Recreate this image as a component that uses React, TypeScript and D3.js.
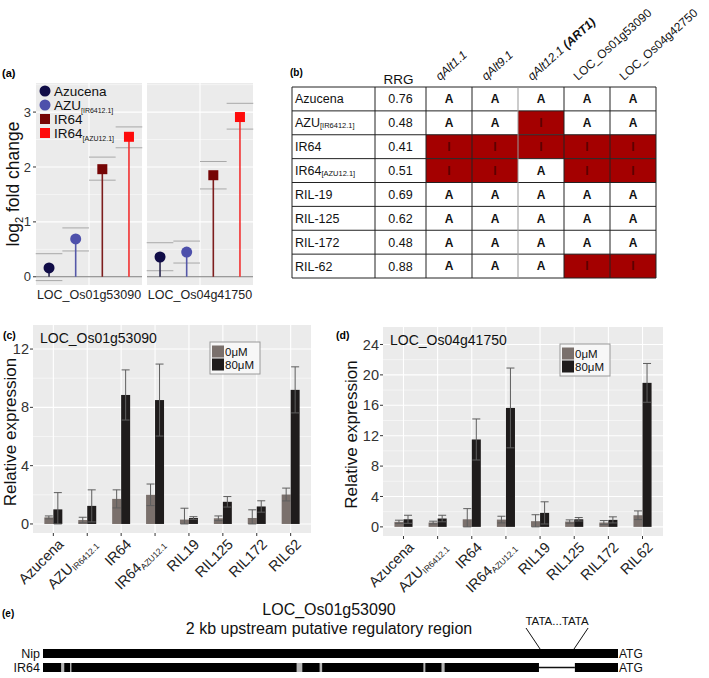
import React from 'react';
import * as d3 from 'd3';

const FONT = "'Liberation Sans', Arial, Helvetica, sans-serif";
const PANEL_BG = '#ebebeb';

// ---------- Panel (a) data ----------
const aGenes = ['LOC_Os01g53090', 'LOC_Os04g41750'];
const aGenotypes = ['Azucena', 'AZU[IR6412.1]', 'IR64', 'IR64[AZU12.1]'];
const aLegendMain = ['Azucena', 'AZU', 'IR64', 'IR64'];
const aLegendSub = ['', '[IR6412.1]', '', '[AZU12.1]'];
const aShapes = ['circle', 'circle', 'square', 'square'];
const aPointColors = ['#100c47', '#4d50ab', '#760505', '#fe0b0b'];
const aStemColors = ['#2c2a4f', '#5558a8', '#7d1d1d', '#f23030'];
const aFoldOs01 = [0.16, 0.69, 1.96, 2.55];
const aLowOs01 = [-0.07, 0.47, 1.76, 2.35];
const aHighOs01 = [0.42, 0.89, 2.18, 2.73];
const aFoldOs04 = [0.36, 0.45, 1.85, 2.91];
const aLowOs04 = [0.11, 0.25, 1.6, 2.69];
const aHighOs04 = [0.62, 0.65, 2.1, 3.16];
const aTicks = [0, 1, 2, 3];

// ---------- Panel (b) data ----------
const tRowMain = ['Azucena', 'AZU', 'IR64', 'IR64', 'RIL-19', 'RIL-125', 'RIL-172', 'RIL-62'];
const tRowSub = ['', '[IR6412.1]', '', '[AZU12.1]', '', '', '', ''];
const tRRG = ['0.76', '0.48', '0.41', '0.51', '0.69', '0.62', '0.48', '0.88'];
const tColMain = ['qAlt1.1', 'qAlt9.1', 'qAlt12.1 ', 'LOC_Os01g53090', 'LOC_Os04g42750'];
const tColBold = ['', '', '(ART1)', '', ''];
const tColItalic = [true, true, true, false, false];
const tAlleles = [
  ['A', 'A', 'A', 'A', 'A'],
  ['A', 'A', 'I', 'A', 'A'],
  ['I', 'I', 'I', 'I', 'I'],
  ['I', 'I', 'A', 'I', 'I'],
  ['A', 'A', 'A', 'A', 'A'],
  ['A', 'A', 'A', 'A', 'A'],
  ['A', 'A', 'A', 'A', 'A'],
  ['A', 'A', 'A', 'I', 'I'],
];

// ---------- Panels (c), (d) data ----------
const xKeys = ['Azucena', 'AZU_IR6412.1', 'IR64', 'IR64_AZU12.1', 'RIL19', 'RIL125', 'RIL172', 'RIL62'];
const xMain = ['Azucena', 'AZU', 'IR64', 'IR64', 'RIL19', 'RIL125', 'RIL172', 'RIL62'];
const xSub = ['', 'IR6412.1', '', 'AZU12.1', '', '', '', ''];
const treatments = ['0μM', '80μM'];
const treatColors = ['#7a706c', '#1f1c1c'];

const c0 = [0.45, 0.27, 1.72, 2.0, 0.3, 0.39, 0.41, 2.02];
const c0err = [0.1, 0.19, 0.62, 0.74, 0.78, 0.16, 0.56, 0.44];
const c80 = [1.0, 1.24, 8.85, 8.5, 0.41, 1.52, 1.2, 9.2];
const c80err = [1.15, 1.1, 1.72, 2.47, 0.09, 0.36, 0.39, 1.58];
const cTicks = [0, 4, 8, 12];

const d0 = [0.66, 0.57, 1.0, 0.96, 0.75, 0.7, 0.57, 1.53];
const d0err = [0.22, 0.18, 1.4, 0.44, 0.85, 0.22, 0.26, 0.57];
const d80 = [1.0, 1.1, 11.5, 15.65, 1.84, 1.0, 0.92, 18.95];
const d80err = [0.53, 0.43, 2.7, 5.25, 1.46, 0.23, 0.4, 2.55];
const dTicks = [0, 4, 8, 12, 16, 20, 24];

// ---------- Panel (e) data ----------
const prDomain = [-2000, 0];
const prIR64Blocks = [
  [-2000, -1937], [-1926, -1906], [-1901, -1118], [-1098, -1038],
  [-1029, -677], [-670, -614], [-603, -275], [-150, 0],
];
const prIR64Gray = [-2000, -275];
const prDeletion = [-275, -150];
const prTataTop = [-320, -104];
const prTataBottom = [-271, -153];
const prLines = ['Nip', 'IR64'];

function PanelA() {
  const top = 83, bottom = 285;
  const y = d3.scaleLinear().domain([-0.15, 3.53]).range([bottom, top]);
  const facet = d3.scaleBand<string>().domain(aGenes).range([36, 253]).paddingInner(0.045);
  const bw = facet.bandwidth();
  const dodge = d3.scalePoint<string>().domain(aGenotypes).range([bw * 0.123, bw * 0.877]);
  const half = dodge.step() / 2;
  const series = [
    { fold: aFoldOs01, low: aLowOs01, high: aHighOs01 },
    { fold: aFoldOs04, low: aLowOs04, high: aHighOs04 },
  ];
  const minor = [0.5, 1.5, 2.5, 3.5];
  const marker = (i: number, cx: number, cy: number) =>
    aShapes[i] === 'circle'
      ? <circle cx={cx} cy={cy} r={5.5} fill={aPointColors[i]} />
      : <rect x={cx - 5} y={cy - 5} width={10} height={10} fill={aPointColors[i]} />;
  return (
    <g>
      <text x={2} y={77} fontSize={11} fontWeight="bold">(a)</text>
      {aGenes.map((g, gi) => {
        const fx = facet(g)!;
        const s = series[gi];
        return (
          <g key={g}>
            <rect x={fx} y={top} width={bw} height={bottom - top} fill={PANEL_BG} />
            {minor.map(m => <line key={'m' + m} x1={fx} x2={fx + bw} y1={y(m)} y2={y(m)} stroke="#fff" strokeWidth={0.5} />)}
            {aTicks.map(t => <line key={'t' + t} x1={fx} x2={fx + bw} y1={y(t)} y2={y(t)} stroke="#fff" strokeWidth={1.1} />)}
            <line x1={fx + bw / 2} x2={fx + bw / 2} y1={top} y2={bottom} stroke="#fff" strokeWidth={1.1} />
            <line x1={fx} x2={fx + bw} y1={y(0)} y2={y(0)} stroke="#7a7a7a" strokeWidth={1.2} />
            {aGenotypes.map((k, i) => {
              const cx = fx + dodge(k)!;
              return (
                <g key={k}>
                  <line x1={cx - half} x2={cx + half} y1={y(s.high[i])} y2={y(s.high[i])} stroke="#a8a8a8" />
                  <line x1={cx - half} x2={cx + half} y1={y(s.low[i])} y2={y(s.low[i])} stroke="#a8a8a8" />
                  <line x1={cx} x2={cx} y1={y(0)} y2={y(s.fold[i])} stroke={aStemColors[i]} strokeWidth={1.6} />
                  {marker(i, cx, y(s.fold[i]))}
                </g>
              );
            })}
            <text x={fx + bw / 2} y={299} textAnchor="middle" fontSize={12.5} fill="#222">{g}</text>
          </g>
        );
      })}
      {aTicks.map(t => (
        <g key={t}>
          <line x1={33} x2={36} y1={y(t)} y2={y(t)} stroke="#333" />
          <text x={31} y={y(t)} dy="0.35em" textAnchor="end" fontSize={13} fill="#333">{t}</text>
        </g>
      ))}
      <text transform={`translate(19,184) rotate(-90)`} textAnchor="middle" fontSize={17.5} fill="#111">
        log<tspan fontSize={11} dy={4}>2</tspan><tspan dy={-4}> fold change</tspan>
      </text>
      {aLegendMain.map((m, i) => {
        const ly = 91 + i * 14;
        return (
          <g key={i}>
            {marker(i, 45, ly)}
            <text x={54} y={ly + 5} fontSize={13.5} fill="#111">
              {m}{aLegendSub[i] && <tspan fontSize={7} dy={3}>{aLegendSub[i]}</tspan>}
            </text>
          </g>
        );
      })}
    </g>
  );
}

function PanelB() {
  const rows = d3.scaleBand<number>().domain(d3.range(tRowMain.length)).range([87, 278]);
  const cols = d3.scaleBand<number>().domain(d3.range(tColMain.length)).range([426, 656]);
  const labelX = 292, rrgX0 = 375, rrgX1 = 426;
  const rh = rows.bandwidth();
  const cw = cols.bandwidth();
  return (
    <g>
      <text x={290} y={76} fontSize={10} fontWeight="bold">(b)</text>
      <text x={(rrgX0 + rrgX1) / 2 - 2} y={84} textAnchor="middle" fontSize={13.5} fill="#111">RRG</text>
      {tColMain.map((c, j) => (
        <text key={j} transform={`translate(${cols(j)! + cw / 2 - 9},81) rotate(-42)`} fontSize={12}
          fontStyle={tColItalic[j] ? 'italic' : 'normal'} fill="#111">
          {c}{tColBold[j] && <tspan fontWeight="bold">{tColBold[j]}</tspan>}
        </text>
      ))}
      {tRowMain.map((r, i) => {
        const ry = rows(i)!;
        return (
          <g key={i}>
            <rect x={labelX} y={ry} width={656 - labelX} height={rh} fill="#fff" />
            {tAlleles[i].map((a, j) => (
              <g key={j}>
                {a === 'I' && <rect x={cols(j)!} y={ry} width={cw} height={rh} fill="#a40000" />}
                <text x={cols(j)! + cw / 2} y={ry + rh / 2} dy="0.36em" textAnchor="middle" fontSize={12}
                  fontWeight="bold" fill={a === 'I' ? '#5e0000' : '#111'}>{a}</text>
              </g>
            ))}
            <text x={labelX + 3} y={ry + rh / 2} dy="0.36em" fontSize={12.5} fill="#111">
              {r}{tRowSub[i] && <tspan fontSize={7.5} dy={1}>{tRowSub[i]}</tspan>}
            </text>
            <text x={(rrgX0 + rrgX1) / 2} y={ry + rh / 2} dy="0.36em" textAnchor="middle" fontSize={12.5} fill="#111">{tRRG[i]}</text>
          </g>
        );
      })}
      {d3.range(tRowMain.length + 1).map(i => {
        const yy = i < tRowMain.length ? rows(i)! : 278;
        return <line key={'h' + i} x1={labelX} x2={656} y1={yy} y2={yy} stroke="#222" />;
      })}
      {[labelX, rrgX0, rrgX1, ...d3.range(1, tColMain.length).map(j => cols(j)!), 656].map((xx, k) => (
        <line key={'v' + k} x1={xx} x2={xx} y1={87} y2={278} stroke={k === 4 ? '#999' : '#222'} />
      ))}
    </g>
  );
}

type BarProps = {
  letter: string; letterX: number; x0: number; x1: number; y0: number; y1: number;
  yDomain: [number, number]; ticks: number[]; gene: string;
  v0: number[]; e0: number[]; v80: number[]; e80: number[]; titleX: number;
};

function BarPanel(p: BarProps) {
  const y = d3.scaleLinear().domain(p.yDomain).range([p.y1, p.y0]);
  const x = d3.scaleBand<string>().domain(xKeys).range([p.x0, p.x1]).paddingInner(0).paddingOuter(0.1);
  const step = x.step();
  const barW = step * 0.265;
  const minor = p.ticks.slice(0, -1).map((t, i) => (t + p.ticks[i + 1]) / 2);
  const vals = [p.v0, p.v80];
  const errs = [p.e0, p.e80];
  const lx = p.x0 + 177, ly = p.y0 + 17;
  return (
    <g>
      <text x={p.letterX} y={339} fontSize={10.5} fontWeight="bold">{p.letter}</text>
      <rect x={p.x0} y={p.y0} width={p.x1 - p.x0} height={p.y1 - p.y0} fill={PANEL_BG} />
      {minor.map(m => <line key={'m' + m} x1={p.x0} x2={p.x1} y1={y(m)} y2={y(m)} stroke="#fff" strokeWidth={0.5} />)}
      {p.ticks.map(t => <line key={'t' + t} x1={p.x0} x2={p.x1} y1={y(t)} y2={y(t)} stroke="#fff" strokeWidth={1.1} />)}
      {xKeys.map(k => {
        const cx = x(k)! + x.bandwidth() / 2;
        return <line key={'v' + k} x1={cx} x2={cx} y1={p.y0} y2={p.y1} stroke="#fff" strokeWidth={1.1} />;
      })}
      {xKeys.map((k, i) => {
        const cx = x(k)! + x.bandwidth() / 2;
        return (
          <g key={k}>
            {treatments.map((t, ti) => {
              const bx = cx + (ti === 0 ? -barW : 0);
              const v = vals[ti][i], e = errs[ti][i];
              const bc = bx + barW / 2;
              const lo = Math.max(0, v - e), hi = v + e;
              return (
                <g key={t}>
                  <rect x={bx} y={y(v)} width={barW} height={y(0) - y(v)} fill={treatColors[ti]} />
                  <line x1={bc} x2={bc} y1={y(lo)} y2={y(hi)} stroke="#5e5e5e" />
                  <line x1={bc - 4} x2={bc + 4} y1={y(hi)} y2={y(hi)} stroke="#5e5e5e" />
                  <line x1={bc - 4} x2={bc + 4} y1={y(lo)} y2={y(lo)} stroke="#5e5e5e" />
                </g>
              );
            })}
            <line x1={cx} x2={cx} y1={p.y1} y2={p.y1 + 3} stroke="#333" />
            <text transform={`translate(${cx + 4},${p.y1 + 5}) rotate(-45)`} dy="0.7em" textAnchor="end" fontSize={14.5} fill="#222">
              {xMain[i]}{xSub[i] && <tspan fontSize={8.5} dy={2}>{xSub[i]}</tspan>}
            </text>
          </g>
        );
      })}
      {p.ticks.map(t => (
        <g key={t}>
          <line x1={p.x0 - 3} x2={p.x0} y1={y(t)} y2={y(t)} stroke="#333" />
          <text x={p.x0 - 4} y={y(t)} dy="0.35em" textAnchor="end" fontSize={14.5} fill="#333">{t}</text>
        </g>
      ))}
      <text transform={`translate(${p.titleX},${(p.y0 + p.y1) / 2 + 3}) rotate(-90)`} textAnchor="middle" fontSize={17} fill="#111">
        Relative expression
      </text>
      <text x={p.x0 + 7} y={p.y0 + 18} fontSize={14} fill="#111">{p.gene}</text>
      <rect x={lx} y={ly} width={50} height={32} fill="#f7f7f7" stroke="#9a9a9a" />
      {treatments.map((t, ti) => (
        <g key={t}>
          <rect x={lx + 2} y={ly + 3.5 + ti * 13} width={12} height={12} fill={treatColors[ti]} />
          <text x={lx + 15} y={ly + 13.5 + ti * 13} fontSize={11.5} fill="#111">{t}</text>
        </g>
      ))}
    </g>
  );
}

function PanelE() {
  const x = d3.scaleLinear().domain(prDomain).range([43, 618]);
  const nipY = 649, irY = 663, h = 9;
  return (
    <g>
      <text x={2} y={617} fontSize={10} fontWeight="bold">(e)</text>
      <text x={329} y={615} textAnchor="middle" fontSize={16} fill="#111">LOC_Os01g53090</text>
      <text x={329} y={634} textAnchor="middle" fontSize={16} fill="#111">2 kb upstream putative regulatory region</text>
      <text x={(x(prTataTop[0]) + x(prTataTop[1])) / 2} y={625} textAnchor="middle" fontSize={11.5} fill="#111">TATA...TATA</text>
      <line x1={x(prTataTop[0])} y1={628} x2={x(prTataBottom[0])} y2={nipY} stroke="#111" />
      <line x1={x(prTataTop[1])} y1={628} x2={x(prTataBottom[1])} y2={nipY} stroke="#111" />
      <rect x={x(prDomain[0])} y={nipY} width={x(prDomain[1]) - x(prDomain[0])} height={h} fill="#000" />
      <rect x={x(prIR64Gray[0])} y={irY} width={x(prIR64Gray[1]) - x(prIR64Gray[0])} height={h} fill="#b5b5b5" />
      <line x1={x(prDeletion[0])} x2={x(prDeletion[1])} y1={irY + h / 2} y2={irY + h / 2} stroke="#111" strokeWidth={1.3} />
      {prIR64Blocks.map((b, i) => (
        <rect key={i} x={x(b[0])} y={irY} width={x(b[1]) - x(b[0])} height={h} fill="#000" />
      ))}
      {prLines.map((l, i) => (
        <g key={l}>
          <text x={40} y={(i === 0 ? nipY : irY) + 9} textAnchor="end" fontSize={12.5} fill="#111">{l}</text>
          <text x={619} y={(i === 0 ? nipY : irY) + 9} fontSize={12} fill="#111">ATG</text>
        </g>
      ))}
    </g>
  );
}

export default function App() {
  return (
    <svg width={709} height={678} style={{ position: 'absolute', left: 0, top: 0, background: '#fff' }} fontFamily={FONT}>
      <PanelA />
      <PanelB />
      <BarPanel letter="(c)" letterX={3} x0={33} x1={311} y0={325} y1={533} yDomain={[-0.62, 13.65]} ticks={cTicks}
        gene="LOC_Os01g53090" v0={c0} e0={c0err} v80={c80} e80={c80err} titleX={16} />
      <BarPanel letter="(d)" letterX={336} x0={383} x1={663} y0={327} y1={536} yDomain={[-1.2, 26.3]} ticks={dTicks}
        gene="LOC_Os04g41750" v0={d0} e0={d0err} v80={d80} e80={d80err} titleX={357} />
      <PanelE />
    </svg>
  );
}
